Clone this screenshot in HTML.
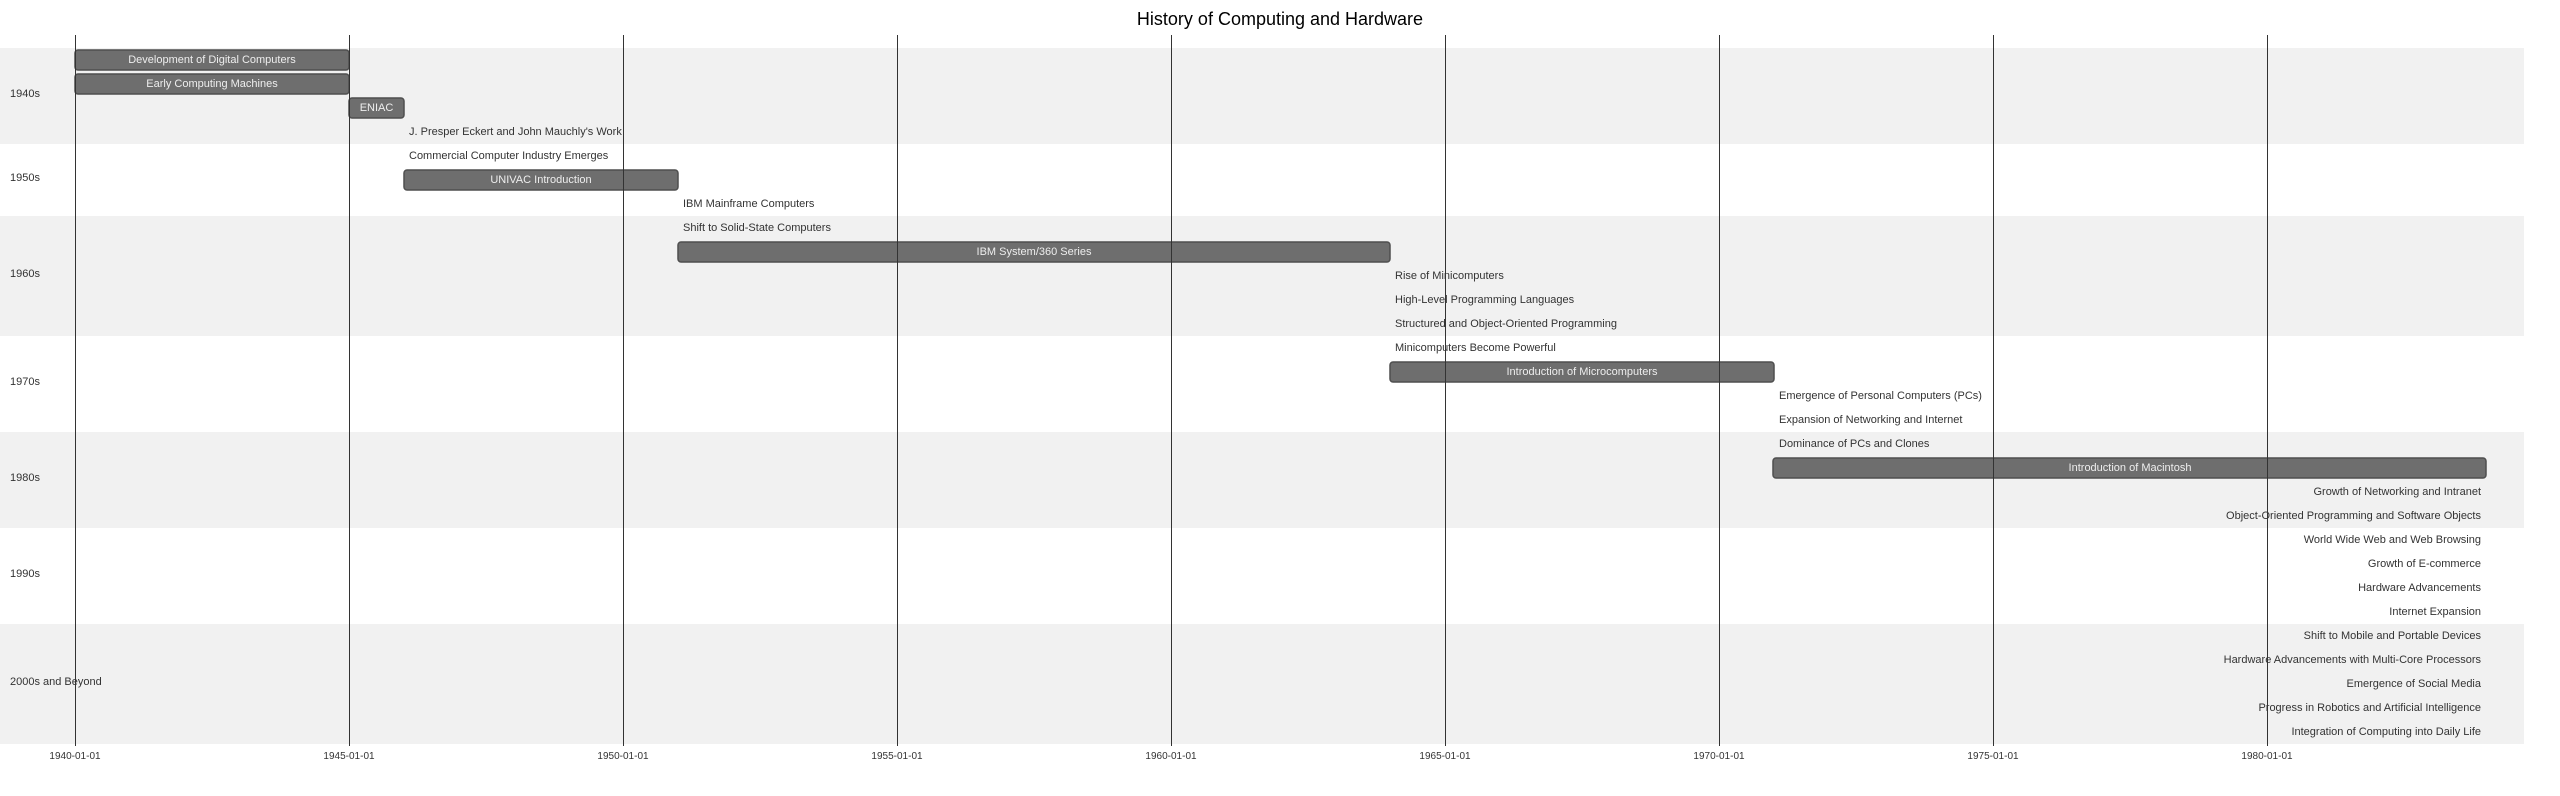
<!DOCTYPE html>
<html><head><meta charset="utf-8"><style>
html,body{margin:0;padding:0;background:#fff;}
svg{display:block;font-family:"Liberation Sans",Arial,sans-serif;}
</style></head><body>
<svg width="2560" height="796" viewBox="0 0 2560 796" xmlns="http://www.w3.org/2000/svg">
<rect width="2560" height="796" fill="#fff"/>
<!-- bands -->
<rect x="0" y="48" width="2524" height="96" fill="#f1f1f1"/>
<rect x="0" y="216" width="2524" height="120" fill="#f1f1f1"/>
<rect x="0" y="432" width="2524" height="96" fill="#f1f1f1"/>
<rect x="0" y="624" width="2524" height="120" fill="#f1f1f1"/>
<!-- band labels -->
<g font-size="11" fill="#333" dominant-baseline="central">
<text x="10" y="94">1940s</text>
<text x="10" y="178">1950s</text>
<text x="10" y="274">1960s</text>
<text x="10" y="382">1970s</text>
<text x="10" y="478">1980s</text>
<text x="10" y="574">1990s</text>
<text x="10" y="682">2000s and Beyond</text>
</g>
<!-- title -->
<text x="1280" y="25" font-size="18" text-anchor="middle" fill="#000">History of Computing and Hardware</text>
<!-- bars -->
<g fill="#6e6e6e" stroke="#4f4f4f" stroke-width="1.5">
<rect x="75" y="50" width="274" height="20" rx="3"/>
<rect x="75" y="74" width="274" height="20" rx="3"/>
<rect x="349" y="98" width="55" height="20" rx="3"/>
<rect x="404" y="170" width="274" height="20" rx="3"/>
<rect x="678" y="242" width="712" height="20" rx="3"/>
<rect x="1390" y="362" width="384" height="20" rx="3"/>
<rect x="1773" y="458" width="713" height="20" rx="3"/>
</g>
<!-- grid lines -->
<g stroke="#333" stroke-width="1">
<line x1="75.5" y1="35" x2="75.5" y2="746"/>
<line x1="349.5" y1="35" x2="349.5" y2="746"/>
<line x1="623.5" y1="35" x2="623.5" y2="746"/>
<line x1="897.5" y1="35" x2="897.5" y2="746"/>
<line x1="1171.5" y1="35" x2="1171.5" y2="746"/>
<line x1="1445.5" y1="35" x2="1445.5" y2="746"/>
<line x1="1719.5" y1="35" x2="1719.5" y2="746"/>
<line x1="1993.5" y1="35" x2="1993.5" y2="746"/>
<line x1="2267.5" y1="35" x2="2267.5" y2="746"/>
</g>
<!-- bar labels -->
<g font-size="11" fill="#eee" text-anchor="middle" dominant-baseline="central">
<text x="212" y="60">Development of Digital Computers</text>
<text x="212" y="84">Early Computing Machines</text>
<text x="376.5" y="108">ENIAC</text>
<text x="541" y="180">UNIVAC Introduction</text>
<text x="1034" y="252">IBM System/360 Series</text>
<text x="1582" y="372">Introduction of Microcomputers</text>
<text x="2130" y="468">Introduction of Macintosh</text>
</g>
<!-- left-aligned labels -->
<g font-size="11" fill="#333" dominant-baseline="central">
<text x="409" y="132">J. Presper Eckert and John Mauchly's Work</text>
<text x="409" y="156">Commercial Computer Industry Emerges</text>
<text x="683" y="204">IBM Mainframe Computers</text>
<text x="683" y="228">Shift to Solid-State Computers</text>
<text x="1395" y="276">Rise of Minicomputers</text>
<text x="1395" y="300">High-Level Programming Languages</text>
<text x="1395" y="324">Structured and Object-Oriented Programming</text>
<text x="1395" y="348">Minicomputers Become Powerful</text>
<text x="1779" y="396">Emergence of Personal Computers (PCs)</text>
<text x="1779" y="420">Expansion of Networking and Internet</text>
<text x="1779" y="444">Dominance of PCs and Clones</text>
</g>
<g font-size="11" fill="#333" dominant-baseline="central" text-anchor="end">
<text x="2481" y="492">Growth of Networking and Intranet</text>
<text x="2481" y="516">Object-Oriented Programming and Software Objects</text>
<text x="2481" y="540">World Wide Web and Web Browsing</text>
<text x="2481" y="564">Growth of E-commerce</text>
<text x="2481" y="588">Hardware Advancements</text>
<text x="2481" y="612">Internet Expansion</text>
<text x="2481" y="636">Shift to Mobile and Portable Devices</text>
<text x="2481" y="660">Hardware Advancements with Multi-Core Processors</text>
<text x="2481" y="684">Emergence of Social Media</text>
<text x="2481" y="708">Progress in Robotics and Artificial Intelligence</text>
<text x="2481" y="732">Integration of Computing into Daily Life</text>
</g>
<!-- axis labels -->
<g font-size="10" fill="#333" text-anchor="middle">
<text x="75" y="759">1940-01-01</text>
<text x="349" y="759">1945-01-01</text>
<text x="623" y="759">1950-01-01</text>
<text x="897" y="759">1955-01-01</text>
<text x="1171" y="759">1960-01-01</text>
<text x="1445" y="759">1965-01-01</text>
<text x="1719" y="759">1970-01-01</text>
<text x="1993" y="759">1975-01-01</text>
<text x="2267" y="759">1980-01-01</text>
</g>
</svg>
</body></html>
